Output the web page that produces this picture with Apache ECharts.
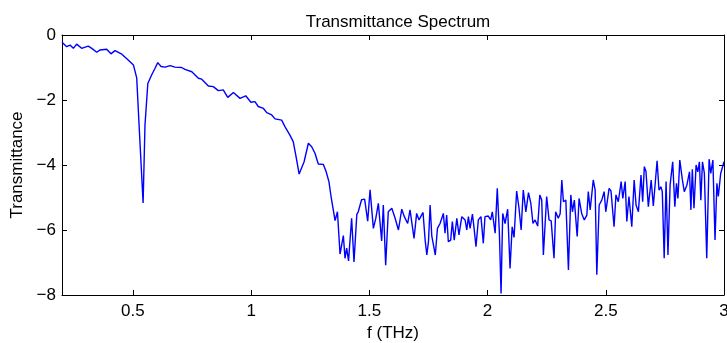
<!DOCTYPE html>
<html>
<head>
<meta charset="utf-8">
<script src="https://cdn.jsdelivr.net/npm/echarts@6/dist/echarts.min.js"></script>
<style>
  html, body { margin: 0; padding: 0; background: #fff; }
  #chart { width: 727px; height: 343px; }
</style>
</head>
<body>
<div id="chart"></div>
<script>
// Frequency samples (THz)
const freq = [
  0.200, 0.220, 0.234, 0.248, 0.262, 0.283, 0.311, 0.326, 0.347, 0.361,
  0.389, 0.407, 0.424, 0.453, 0.480, 0.502, 0.516, 0.526, 0.543, 0.551,
  0.563, 0.579, 0.593, 0.605, 0.619, 0.636, 0.657, 0.678, 0.706, 0.720,
  0.749, 0.777, 0.791, 0.819, 0.840, 0.861, 0.882, 0.901, 0.925, 0.953,
  0.977, 0.999, 1.016, 1.030, 1.052, 1.066, 1.087, 1.101, 1.129, 1.143,
  1.164, 1.178, 1.190, 1.203, 1.211, 1.224, 1.242, 1.256, 1.270, 1.284,
  1.305, 1.317, 1.329, 1.338, 1.345, 1.355, 1.365, 1.376, 1.390, 1.397,
  1.404, 1.412, 1.425, 1.435, 1.447, 1.453, 1.467, 1.480, 1.493, 1.503,
  1.517, 1.527, 1.538, 1.552, 1.559, 1.569, 1.580, 1.595, 1.609, 1.623,
  1.637, 1.648, 1.662, 1.672, 1.689, 1.700, 1.710, 1.727, 1.736, 1.743,
  1.750, 1.757, 1.764, 1.779, 1.788, 1.799, 1.813, 1.820, 1.827, 1.834,
  1.844, 1.851, 1.859, 1.870, 1.879, 1.891, 1.905, 1.912, 1.919, 1.926,
  1.936, 1.943, 1.951, 1.961, 1.972, 1.982, 1.989, 2.003, 2.013, 2.020,
  2.032, 2.041, 2.050, 2.057, 2.064, 2.074, 2.085, 2.095, 2.104, 2.112,
  2.123, 2.133, 2.142, 2.151, 2.162, 2.173, 2.183, 2.192, 2.201, 2.212,
  2.221, 2.229, 2.236, 2.250, 2.260, 2.269, 2.281, 2.288, 2.299, 2.307,
  2.314, 2.321, 2.331, 2.342, 2.352, 2.359, 2.367, 2.379, 2.387, 2.398,
  2.409, 2.420, 2.426, 2.434, 2.447, 2.455, 2.462, 2.472, 2.483, 2.493,
  2.500, 2.514, 2.522, 2.535, 2.543, 2.553, 2.565, 2.572, 2.582, 2.589,
  2.598, 2.604, 2.610, 2.620, 2.628, 2.638, 2.649, 2.656, 2.663, 2.670,
  2.680, 2.692, 2.701, 2.708, 2.717, 2.725, 2.733, 2.739, 2.747, 2.755,
  2.763, 2.772, 2.783, 2.792, 2.799, 2.805, 2.813, 2.824, 2.832, 2.843,
  2.854, 2.860, 2.866, 2.873, 2.882, 2.889, 2.896, 2.902, 2.909, 2.917,
  2.927, 2.937, 2.944, 2.953, 2.962, 2.970, 2.976, 2.986, 3.000
];

// Measured transmittance at each frequency
const trans = [
  -0.22, -0.36, -0.31, -0.41, -0.28, -0.41, -0.34, -0.41, -0.53, -0.46,
  -0.44, -0.58, -0.48, -0.59, -0.77, -0.92, -1.32, -2.77, -5.17, -2.77,
  -1.49, -1.23, -1.03, -0.85, -0.97, -0.99, -0.94, -0.99, -1.00, -1.06,
  -1.13, -1.33, -1.36, -1.57, -1.59, -1.71, -1.69, -1.92, -1.77, -1.95,
  -1.87, -2.07, -2.05, -2.20, -2.26, -2.39, -2.46, -2.58, -2.62, -2.82,
  -3.08, -3.28, -3.74, -4.28, -4.26, -3.90, -3.33, -3.44, -3.64, -3.97,
  -3.98, -4.20, -4.51, -4.97, -4.94, -5.71, -5.44, -6.74, -6.17, -6.87,
  -6.56, -6.95, -5.64, -6.98, -5.52, -5.44, -5.07, -5.05, -5.73, -4.76,
  -5.95, -5.65, -5.18, -6.34, -5.23, -7.08, -5.44, -5.33, -5.64, -6.00,
  -5.36, -5.59, -5.80, -5.38, -6.26, -5.49, -5.69, -5.46, -6.31, -6.77,
  -6.36, -5.23, -6.18, -6.77, -5.95, -5.80, -5.49, -6.10, -5.54, -6.36,
  -6.31, -5.74, -6.31, -5.64, -6.15, -5.59, -5.69, -6.00, -5.59, -5.95,
  -5.51, -5.95, -6.51, -5.69, -5.59, -6.41, -5.59, -5.57, -5.69, -5.44,
  -6.10, -4.72, -6.10, -7.95, -5.49, -5.80, -5.36, -7.18, -5.90, -6.23,
  -4.80, -5.33, -6.00, -4.77, -5.44, -4.85, -5.18, -5.80, -5.69, -5.88,
  -4.92, -5.08, -6.77, -4.97, -5.69, -5.72, -6.87, -5.44, -5.64, -5.50,
  -4.46, -5.13, -5.08, -7.23, -4.92, -5.44, -5.08, -6.20, -5.03, -5.49,
  -5.69, -5.54, -4.82, -5.38, -4.46, -4.77, -7.38, -5.23, -5.08, -4.82,
  -5.44, -4.72, -4.80, -5.90, -4.92, -5.13, -4.51, -5.03, -4.51, -5.74,
  -4.97, -4.97, -5.90, -4.46, -5.23, -5.44, -4.31, -5.13, -4.05, -4.20,
  -5.28, -4.46, -5.26, -5.20, -3.87, -4.77, -4.67, -4.82, -6.87, -4.51,
  -6.77, -4.62, -3.90, -5.28, -4.56, -5.03, -3.85, -4.46, -4.82, -4.62,
  -4.21, -5.38, -4.13, -5.33, -4.00, -4.21, -3.90, -5.08, -3.90, -4.26,
  -6.87, -3.82, -4.26, -3.85, -6.31, -4.56, -4.97, -4.26, -3.90
];

// Tick positions
const xTicks = [0.5, 1, 1.5, 2, 2.5, 3];
const yTicks = [0, -2, -4, -6, -8];

const FONT = 'Liberation Sans, Arial, Helvetica, sans-serif';
const points = freq.map((f, i) => [f, trans[i]]);
const minus = v => String(v).replace('-', '\u2212');

const frame = { show: true, onZero: false, lineStyle: { color: '#000', width: 1 } };
const tickIn = (vals) => ({ show: true, inside: true, length: 5, customValues: vals, lineStyle: { color: '#000', width: 1 } });

const chart = echarts.init(document.getElementById('chart'), null, { renderer: 'canvas' });
chart.setOption({
  animation: false,
  backgroundColor: '#fff',
  title: {
    text: 'Transmittance Spectrum',
    left: 393,
    top: 9,
    textAlign: 'center',
    textStyle: { fontFamily: FONT, fontSize: 17, fontWeight: 'normal', color: '#000' }
  },
  grid: { left: 62, right: 3, top: 35, bottom: 48, containLabel: false, outerBoundsMode: 'none' },
  xAxis: [
    {
      type: 'value', position: 'bottom', min: 0.2, max: 3,
      name: 'f (THz)', nameLocation: 'middle', nameGap: 29,
      nameTextStyle: { fontFamily: FONT, fontSize: 17, color: '#000' },
      axisLine: frame, axisTick: tickIn(xTicks),
      axisLabel: { customValues: xTicks, margin: 8, fontFamily: FONT, fontSize: 17, color: '#000' },
      splitLine: { show: false }
    },
    {
      type: 'value', position: 'top', min: 0.2, max: 3,
      axisLine: frame, axisTick: tickIn(xTicks),
      axisLabel: { show: false }, splitLine: { show: false }
    }
  ],
  yAxis: [
    {
      type: 'value', position: 'left', min: -8, max: 0, interval: 2,
      name: 'Transmittance', nameLocation: 'middle', nameGap: 35,
      nameTextStyle: { fontFamily: FONT, fontSize: 17, color: '#000' },
      axisLine: frame, axisTick: tickIn(yTicks),
      axisLabel: { customValues: yTicks, margin: 6, fontFamily: FONT, fontSize: 17, color: '#000', formatter: minus },
      splitLine: { show: false }
    },
    {
      type: 'value', position: 'right', min: -8, max: 0, interval: 2,
      axisLine: frame, axisTick: tickIn(yTicks),
      axisLabel: { show: false }, splitLine: { show: false }
    }
  ],
  series: [{
    type: 'line',
    data: points,
    xAxisIndex: 0,
    yAxisIndex: 0,
    showSymbol: false,
    symbol: 'none',
    clip: true,
    lineStyle: { color: '#0000ff', width: 1.4 }
  }]
});
</script>
</body>
</html>
